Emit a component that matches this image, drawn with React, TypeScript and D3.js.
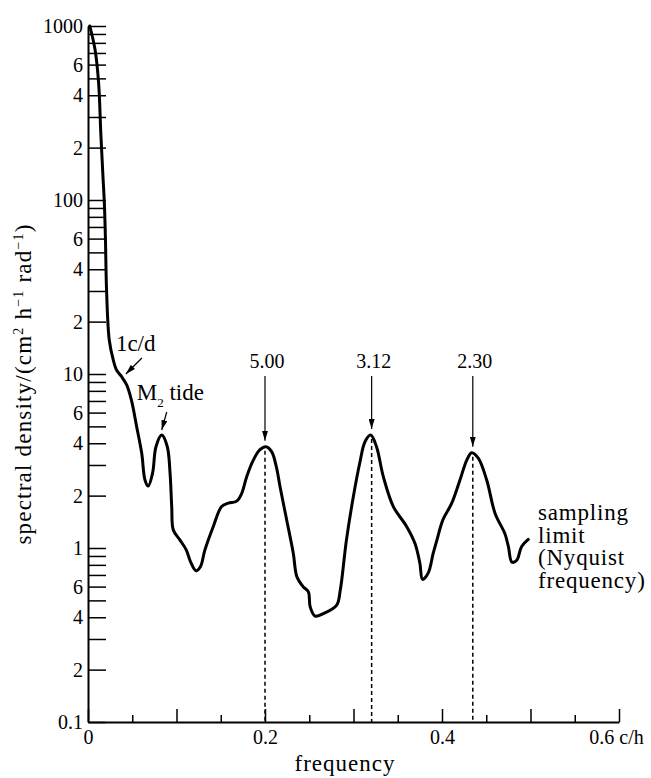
import React, { useEffect, useRef } from "react";
import * as d3 from "d3";

// spectrum: frequency (c/h) and spectral density
const freq = [
  0.002, 0.008, 0.012, 0.0145, 0.0168, 0.0185, 0.0197, 0.021, 0.024, 0.0286,
  0.0324, 0.038, 0.0437, 0.049, 0.055, 0.0607, 0.0644, 0.068, 0.073, 0.0768,
  0.0833, 0.0896, 0.0927, 0.0946, 0.0964, 0.104, 0.111, 0.116, 0.122, 0.127,
  0.132, 0.1416, 0.151, 0.1586, 0.168, 0.1737, 0.1793, 0.1868, 0.194, 0.201,
  0.2075, 0.213, 0.217, 0.2245, 0.232, 0.236, 0.243, 0.249, 0.251, 0.2565,
  0.266, 0.281, 0.285, 0.292, 0.2998, 0.307, 0.313, 0.3194, 0.326, 0.3337,
  0.345, 0.36, 0.3695, 0.375, 0.378, 0.3845, 0.39, 0.394, 0.401, 0.411,
  0.4203, 0.428, 0.4335, 0.441, 0.4505, 0.46, 0.471, 0.475, 0.479, 0.4844,
  0.49, 0.4975,
];
const density = [
  1000, 730, 470, 240, 140, 95, 60, 30, 15.7, 12,
  10.5, 9.65, 8.65, 7.1, 4.98, 3.5, 2.46, 2.27, 2.7, 3.82,
  4.46, 3.82, 2.7, 1.73, 1.27, 1.11, 0.975, 0.83, 0.74, 0.78,
  0.97, 1.33, 1.73, 1.81, 1.86, 2.06, 2.57, 3.2, 3.66, 3.82,
  3.58, 2.9, 2.25, 1.45, 0.93, 0.684, 0.6, 0.56, 0.46, 0.406,
  0.42, 0.47, 0.57, 1.11, 1.97, 3.07, 4.08, 4.46, 3.82, 2.57,
  1.73, 1.33, 1.06, 0.817, 0.66, 0.72, 0.93, 1.1, 1.45, 1.81,
  2.46, 3.2, 3.53, 3.28, 2.46, 1.58, 1.21, 1.02, 0.83, 0.85,
  1.02, 1.12,
];

// the three marked peaks (period in hours)
const periodLabels = ["5.00", "3.12", "2.30"];
const periodFreq = [0.2, 0.3205, 0.4348];
const periodPeak = [3.82, 4.46, 3.53];

// y axis: decades plus 2..9 in each decade, labels only on 2, 4, 6
const decades = [0.1, 1, 10, 100, 1000];
const decadeLabels = ["0.1", "1", "10", "100", "1000"];
const multipliers = [2, 3, 4, 5, 6, 7, 8, 9];
const labelledMultipliers = [2, 4, 6];

// x axis
const xMajor = [0, 0.1, 0.2, 0.3, 0.4, 0.5, 0.6];
const xMajorLabels = ["0", "", "0.2", "", "0.4", "", "0.6 c/h"];
const xMinor = [0.05, 0.15, 0.25, 0.35, 0.45, 0.55];

const W = 651;
const H = 778;
const margin = { top: 26, right: 32, bottom: 56, left: 88 };
const serif = "'Liberation Serif', 'Times New Roman', serif";

export default function App() {
  const ref = useRef<SVGSVGElement>(null);

  useEffect(() => {
    const svg = d3.select(ref.current);
    svg.selectAll("*").remove();

    const x = d3.scaleLinear().domain([0, 0.6]).range([margin.left, W - margin.right]);
    const y = d3.scaleLog().domain([0.1, 1000]).range([H - margin.bottom, margin.top]);

    // y ticks
    const yVals: number[] = [];
    const yText: string[] = [];
    decades.forEach((d, i) => {
      yVals.push(d);
      yText.push(decadeLabels[i]);
      if (i < decades.length - 1) {
        multipliers.forEach((k) => {
          yVals.push(d * k);
          yText.push(labelledMultipliers.includes(k) ? String(k) : "");
        });
      }
    });

    const gy = svg
      .append("g")
      .attr("transform", `translate(${x(0)},0)`)
      .call(
        d3.axisLeft(y)
          .tickValues(yVals)
          .tickFormat((d, i) => yText[i])
          .tickSizeInner(-18)
          .tickSizeOuter(0)
          .tickPadding(5)
      )
      .attr("font-family", serif)
      .attr("font-size", 20);
    gy.select(".domain").attr("stroke-width", 2);
    gy.selectAll(".tick line").attr("stroke-width", 1.5);

    // x axis, major then minor ticks
    const gx = svg
      .append("g")
      .attr("transform", `translate(0,${y(0.1)})`)
      .call(
        d3.axisBottom(x)
          .tickValues(xMajor)
          .tickFormat((d, i) => xMajorLabels[i])
          .tickSizeInner(-13)
          .tickSizeOuter(0)
          .tickPadding(8)
      )
      .attr("font-family", serif)
      .attr("font-size", 20);
    gx.select(".domain").attr("stroke-width", 2);
    gx.selectAll(".tick line").attr("stroke-width", 1.5);
    gx.selectAll(".tick text").attr("dx", (d, i) => (i === xMajor.length - 1 ? -3 : 0));

    const gxm = svg
      .append("g")
      .attr("transform", `translate(0,${y(0.1)})`)
      .call(d3.axisBottom(x).tickValues(xMinor).tickFormat(() => "").tickSizeInner(-7).tickSizeOuter(0));
    gxm.select(".domain").remove();
    gxm.selectAll(".tick line").attr("stroke-width", 1.5);

    // axis titles
    const yl = svg.append("text")
      .attr("transform", `translate(31,${(margin.top + H - margin.bottom) / 2 + 10}) rotate(-90)`)
      .attr("text-anchor", "middle")
      .attr("font-family", serif)
      .attr("font-size", 23)
      .attr("letter-spacing", 1.2);
    yl.append("tspan").text("spectral density/(cm");
    yl.append("tspan").attr("font-size", 14).attr("dy", -8).text("2");
    yl.append("tspan").attr("dy", 8).text(" h");
    yl.append("tspan").attr("font-size", 14).attr("dy", -8).text("−1");
    yl.append("tspan").attr("dy", 8).text(" rad");
    yl.append("tspan").attr("font-size", 14).attr("dy", -8).text("−1");
    yl.append("tspan").attr("dy", 8).text(")");

    svg.append("text")
      .attr("x", 345)
      .attr("y", 771)
      .attr("text-anchor", "middle")
      .attr("font-family", serif)
      .attr("font-size", 23)
      .attr("letter-spacing", 1)
      .text("frequency");

    // arrow head
    svg.append("defs").append("marker")
      .attr("id", "head")
      .attr("viewBox", "0 0 10 6")
      .attr("refX", 10)
      .attr("refY", 3)
      .attr("markerWidth", 10)
      .attr("markerHeight", 6)
      .attr("markerUnits", "userSpaceOnUse")
      .attr("orient", "auto")
      .append("path")
      .attr("d", "M0,0L10,3L0,6Z")
      .attr("fill", "#000");

    // dashed drop lines and period arrows
    periodFreq.forEach((f, i) => {
      const px = x(f);
      svg.append("line")
        .attr("x1", px).attr("x2", px)
        .attr("y1", y(periodPeak[i]) + 4).attr("y2", y(0.1))
        .attr("stroke", "#000")
        .attr("stroke-width", 1.5)
        .attr("stroke-dasharray", "4,3");
      svg.append("line")
        .attr("x1", px).attr("x2", px)
        .attr("y1", 376).attr("y2", y(periodPeak[i]) - 6)
        .attr("stroke", "#000")
        .attr("stroke-width", 1.2)
        .attr("marker-end", "url(#head)");
      svg.append("text")
        .attr("x", px + 2)
        .attr("y", 368)
        .attr("text-anchor", "middle")
        .attr("font-family", serif)
        .attr("font-size", 20)
        .text(periodLabels[i]);
    });

    // spectrum curve
    const line = d3.line<number>()
      .x((d, i) => x(freq[i]))
      .y((d) => y(d))
      .curve(d3.curveCatmullRom.alpha(0.5));
    svg.append("path")
      .attr("d", line(density))
      .attr("fill", "none")
      .attr("stroke", "#000")
      .attr("stroke-width", 3)
      .attr("stroke-linejoin", "round")
      .attr("stroke-linecap", "round");

    // 1 c/d annotation
    const dayX = x(1 / 24);
    const dayY = y(10);
    svg.append("text")
      .attr("x", dayX - 9).attr("y", dayY - 23)
      .attr("font-family", serif).attr("font-size", 23)
      .text("1c/d");
    svg.append("line")
      .attr("x1", dayX + 17).attr("y1", dayY - 16)
      .attr("x2", dayX + 1).attr("y2", dayY)
      .attr("stroke", "#000").attr("stroke-width", 1.2)
      .attr("marker-end", "url(#head)");

    // M2 tide annotation
    const m2X = x(0.0833);
    const m2Y = y(4.46);
    const m2 = svg.append("text")
      .attr("x", m2X - 25).attr("y", m2Y - 35)
      .attr("font-family", serif).attr("font-size", 23);
    m2.append("tspan").text("M");
    m2.append("tspan").attr("font-size", 13).attr("dy", 7).text("2");
    m2.append("tspan").attr("dy", -7).text(" tide");
    svg.append("line")
      .attr("x1", m2X + 5).attr("y1", m2Y - 23)
      .attr("x2", m2X).attr("y2", m2Y - 5)
      .attr("stroke", "#000").attr("stroke-width", 1.2)
      .attr("marker-end", "url(#head)");

    // Nyquist note
    const note = ["sampling", "limit", "(Nyquist", "frequency)"];
    svg.append("g")
      .selectAll("text")
      .data(note)
      .join("text")
      .attr("x", 538)
      .attr("y", (d, i) => 520 + i * 22.7)
      .attr("font-family", serif)
      .attr("font-size", 23)
      .attr("letter-spacing", 0.8)
      .text((d) => d);
  }, []);

  return (
    <svg
      ref={ref}
      width={W}
      height={H}
      style={{ position: "absolute", left: 0, top: 0, background: "#fff" }}
    />
  );
}
